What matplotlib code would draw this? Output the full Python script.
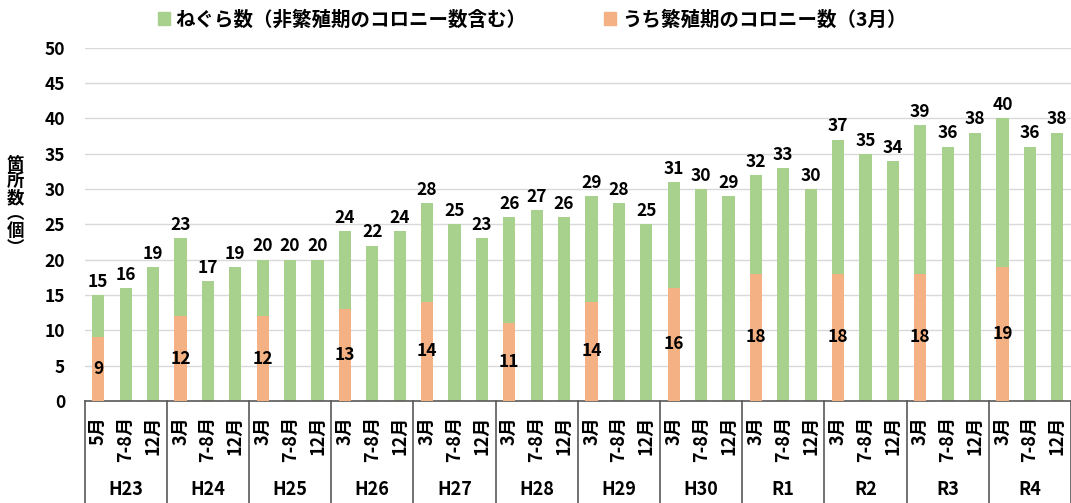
import numpy as np
import matplotlib.pyplot as plt
from matplotlib.patches import Patch
from matplotlib.transforms import blended_transform_factory

plt.rcParams['font.family'] = ['Noto Sans CJK JP', 'DejaVu Sans']

years = ["H23", "H24", "H25", "H26", "H27", "H28", "H29", "H30", "R1", "R2", "R3", "R4"]
months_first = ["5月", "7-8月", "12月"]
months = ["3月", "7-8月", "12月"]

roosts = [15, 16, 19, 23, 17, 19, 20, 20, 20, 24, 22, 24,
          28, 25, 23, 26, 27, 26, 29, 28, 25, 31, 30, 29,
          32, 33, 30, 37, 35, 34, 39, 36, 38, 40, 36, 38]
breeding_by_year = [9, 12, 12, 13, 14, 11, 14, 16, 18, 18, 18, 19]

GREEN = "#A9D18E"
ORANGE = "#F4B183"

sub_labels = months_first + months * (len(years) - 1)
breeding = []
for b in breeding_by_year:
    breeding += [b, np.nan, np.nan]

x = np.arange(len(roosts))

fig = plt.figure(figsize=(10.71, 5.03), dpi=100)
ax = fig.add_axes([0.079, 0.203, 0.921, 0.702])

bars_g = ax.bar(x, roosts, width=0.45, color=GREEN, zorder=2)
bars_o = ax.bar(x, breeding, width=0.45, color=ORANGE, zorder=3)
ax.bar_label(bars_g, labels=[str(v) for v in roosts], padding=3,
             fontsize=12.5, fontweight="bold")
ax.bar_label(bars_o, labels=["" if np.isnan(v) else str(int(v)) for v in breeding],
             label_type="center", fontsize=12.5, fontweight="bold", zorder=4)

ax.set_ylim(0, 50)
ax.set_yticks(range(0, 51, 5))
ax.set_xlim(-0.5, len(roosts) - 0.5)
ax.grid(axis="y", color="#d9d9d9", lw=1, zorder=0)
ax.tick_params(axis="y", length=0, labelsize=12.5, pad=14)
for lab in ax.get_yticklabels():
    lab.set_fontweight("bold")
for side in ["top", "right", "left"]:
    ax.spines[side].set_visible(False)
ax.spines["bottom"].set_color("#595959")
ax.spines["bottom"].set_linewidth(1.2)

ax.set_xticks(x)
ax.set_xticklabels(sub_labels, rotation=90, fontsize=13, fontweight="bold", va="top")
ax.tick_params(axis="x", length=0, pad=11)

trans = blended_transform_factory(ax.transData, ax.transAxes)
for k in range(len(years) + 1):
    xb = 3 * k - 0.5
    ax.plot([xb, xb], [0, -0.32], transform=trans, color="#595959", lw=1.2,
            clip_on=False)
for k, yr in enumerate(years):
    ax.text(3 * k + 1, -0.252, yr, transform=trans, ha="center", va="center",
            fontsize=13, fontweight="bold")

fig.text(0.014, 0.59, "箇\n所\n数\n︵\n個\n︶", ha="center", va="center",
         fontsize=12.5, fontweight="bold", linespacing=0.9)

handles = [Patch(color=GREEN, label="ねぐら数（非繁殖期のコロニー数含む）"),
           Patch(color=ORANGE, label="うち繁殖期のコロニー数（3月）")]
leg = fig.legend(handles=handles, loc="upper center", bbox_to_anchor=(0.497, 1.015),
                 ncol=2, frameon=False, handlelength=0.6, handleheight=0.6,
                 handletextpad=0.3, columnspacing=4,
                 prop={"size": 14, "weight": "bold"})

fig.savefig("out.png", dpi=100)
